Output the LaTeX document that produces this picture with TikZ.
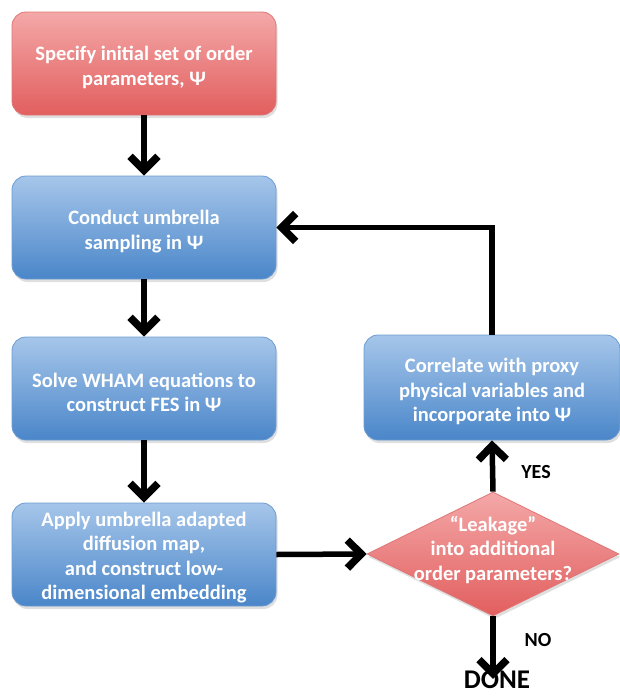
\documentclass[tikz,border=0pt]{standalone}
\usepackage{fontspec}
\setmainfont{Carlito}
\usetikzlibrary{arrows.meta,shapes.geometric,shadows}
\definecolor{redtop}{HTML}{F4A8A8}
\definecolor{redbot}{HTML}{E25E5E}
\definecolor{redline}{HTML}{E07676}
\definecolor{bluetop}{HTML}{A6C6EA}
\definecolor{bluebot}{HTML}{4A86C9}
\definecolor{blueline}{HTML}{6C9CD2}
\tikzset{
  boxbase/.style={rectangle, rounded corners=14pt, minimum width=264pt, minimum height=103pt,
    inner sep=0pt, line width=0.8pt,
    drop shadow={shadow xshift=1.5pt, shadow yshift=-3pt, opacity=0.25}},
  redbox/.style={boxbase, draw=redline, top color=redtop, bottom color=redbot},
  bluebox/.style={boxbase, draw=blueline, top color=bluetop, bottom color=bluebot},
  decision/.style={diamond, inner sep=0pt, minimum width=252pt, minimum height=124pt,
    draw=redline, line width=0.8pt, top color=redtop, bottom color=redbot,
    drop shadow={shadow xshift=1.5pt, shadow yshift=-3pt, opacity=0.25}},
  btext/.style={align=center, text=white, font=\fontsize{20.5}{24.5}\selectfont\bfseries, inner sep=0pt},
  arr/.style={line width=5.5pt, -{Straight Barb[length=14pt, width=28pt, line width=7.5pt]}},
  lbl/.style={font=\fontsize{20}{22}\selectfont\bfseries, inner sep=0pt},
}
\begin{document}
\begin{tikzpicture}[x=1pt, y=-1pt]
\useasboundingbox (0,0) rectangle (619,696);
\node[redbox]  (b1) at (144,63.5) {};
\node[bluebox] (b2) at (144,227.5) {};
\node[bluebox] (b3) at (144,388.5) {};
\node[bluebox] (b4) at (144,554.5) {};
\node[bluebox, minimum width=256pt, minimum height=105pt] (b5) at (492,387.5) {};
\node[decision] (d) at (493,554) {};

\node[btext] (b1t) at ([yshift=-4pt]b1.center) {Specify initial set of order\\parameters, Ψ};
\node[btext] (b2t) at ([yshift=-4pt]b2.center) {Conduct umbrella\\sampling in Ψ};
\node[btext] (b3t) at ([yshift=-4pt]b3.center) {Solve WHAM equations to\\construct FES in Ψ};
\node[btext] (b4t) at ([yshift=-3pt]b4.center) {Apply umbrella adapted\\diffusion map,\\and construct low-\\dimensional embedding};
\node[btext] (b5t) at ([yshift=-4pt]b5.center) {Correlate with proxy\\physical variables and\\incorporate into Ψ};
\node[btext] (dt) at ([yshift=4pt]d.center) {“Leakage”\\into additional\\order parameters?};

\node[font=\fontsize{27}{29}\selectfont\bfseries, inner sep=0pt] (done) at (497,680) {DONE};
\node[lbl] (yes) at (536,472) {YES};
\node[lbl] (no) at (538,640) {NO};

\draw[arr] (b1) -- (b2);
\draw[arr] (b2) -- (b3);
\draw[arr] (b3) -- (b4);
\draw[arr] (b4.east) -- (d.west);
\draw[arr] (d.north) -- (b5.south);
\draw[arr] (b5.north) |- (b2.east);
\draw[arr] (d.south) -- ([yshift=-8pt]d.south |- done.north);
\end{tikzpicture}
\end{document}
